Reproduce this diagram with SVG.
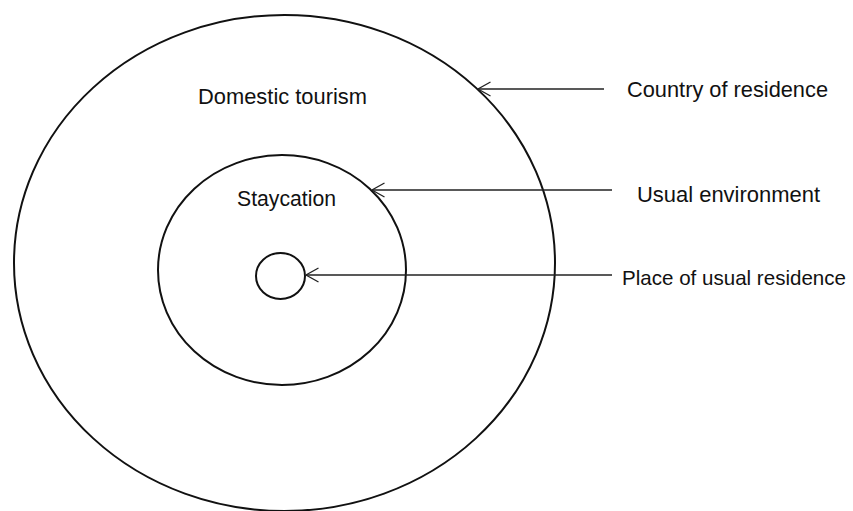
<svg xmlns="http://www.w3.org/2000/svg" width="853" height="511" viewBox="0 0 853 511">
<defs>
<marker id="open" viewBox="0 0 14 16" refX="0.5" refY="8" markerWidth="14" markerHeight="16" markerUnits="userSpaceOnUse" orient="auto">
<path d="M13,1 L0.5,8 L13,15" fill="none" stroke="#222" stroke-width="1.3"/>
</marker>
<style>
.ring{fill:none;stroke:#111;stroke-width:2}
.conn{stroke:#222;stroke-width:1.3;fill:none;marker-start:url(#open)}
.lbl{font-family:"Liberation Sans",Arial,sans-serif;font-size:22px;fill:#111}
</style>
</defs>
<rect width="853" height="511" fill="#fff"/>
<g id="country">
<ellipse class="ring" cx="284.5" cy="263" rx="270.5" ry="248"/>
<text class="lbl" x="198" y="104" textLength="169" lengthAdjust="spacingAndGlyphs">Domestic tourism</text>
</g>
<g id="usual-environment">
<ellipse class="ring" cx="282" cy="270" rx="124" ry="115"/>
<text class="lbl" x="237" y="206" textLength="99" lengthAdjust="spacingAndGlyphs">Staycation</text>
</g>
<g id="residence">
<ellipse class="ring" cx="280.5" cy="276" rx="24.5" ry="23"/>
</g>
<g id="labels">
<text class="lbl" x="627" y="97" textLength="201" lengthAdjust="spacingAndGlyphs">Country of residence</text>
<text class="lbl" x="637" y="202" textLength="183" lengthAdjust="spacingAndGlyphs">Usual environment</text>
<text class="lbl" x="622" y="285" style="font-size:21px" textLength="224" lengthAdjust="spacingAndGlyphs">Place of usual residence</text>
</g>
<g id="connectors">
<line class="conn" x1="478" y1="89" x2="604" y2="89"/>
<line class="conn" x1="372" y1="190" x2="612" y2="190"/>
<line class="conn" x1="306" y1="275" x2="612" y2="275"/>
</g>
</svg>
